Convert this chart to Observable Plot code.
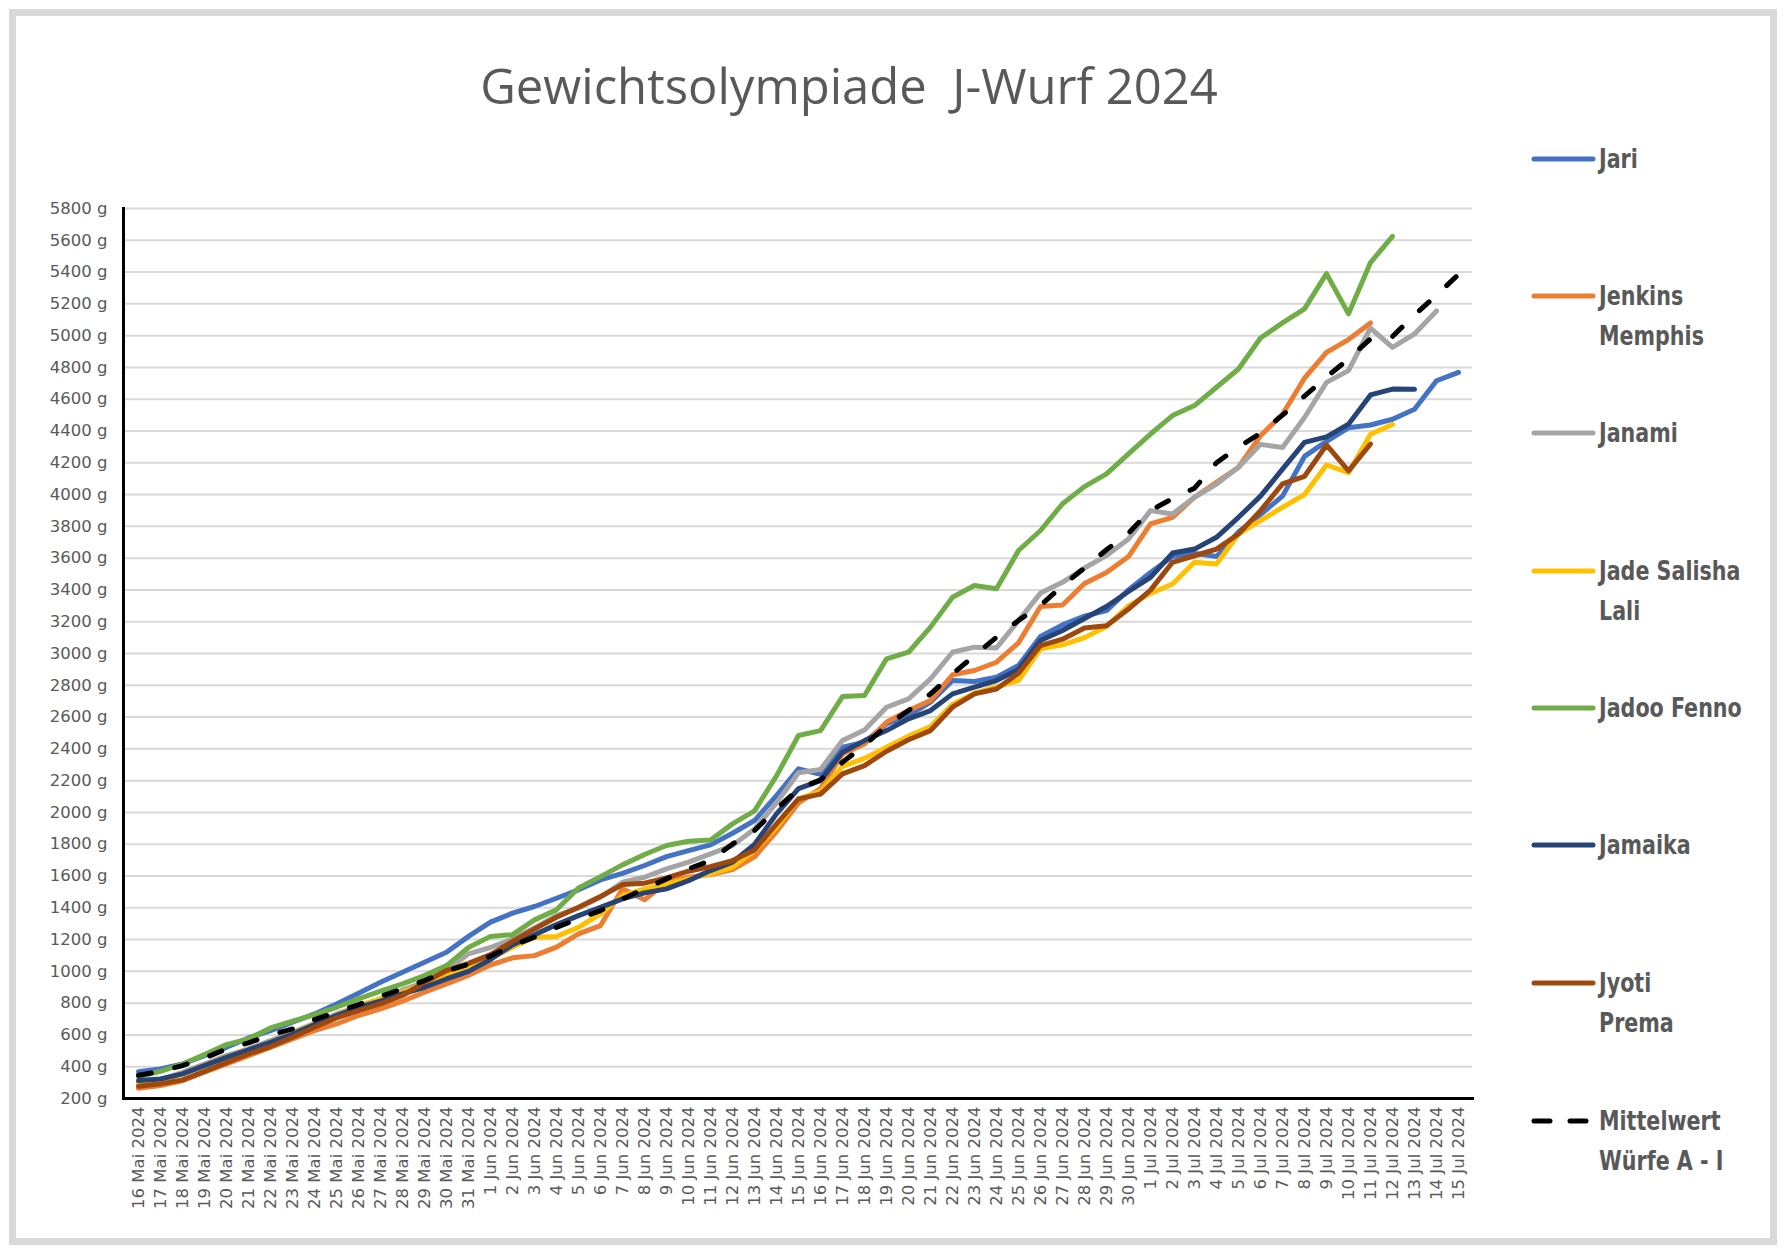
<!DOCTYPE html>
<html><head><meta charset="utf-8">
<script src="https://cdn.jsdelivr.net/npm/d3@7"></script>
<script src="https://cdn.jsdelivr.net/npm/@observablehq/plot@0.6"></script>
<style>
body{margin:0;background:#fff;}
#wrap{position:relative;width:1784px;height:1252px;overflow:hidden;background:#fff;}
#frame{position:absolute;left:9px;top:9px;width:1768px;height:1236px;border:7px solid #d9d9d9;box-sizing:border-box;}
#title{position:absolute;left:0;width:1698px;top:52px;text-align:center;font:49px "Open Sans",sans-serif;color:#595959;white-space:pre;}
#chart{position:absolute;left:0;top:0;}
#legend{position:absolute;left:1530px;top:0;width:250px;height:1252px;}
.item{position:absolute;left:0;}
.item svg{position:absolute;left:0;top:0;}
.item div{position:absolute;left:69px;top:0;font:bold 27px "Liberation Sans Narrow","DejaVu Sans Condensed",sans-serif;color:#595959;line-height:40px;white-space:nowrap;transform:scaleX(0.85);transform-origin:0 0;}
</style>
</head><body>
<div id="wrap">
  <div id="frame"></div>
  <div id="title">Gewichtsolympiade  J-Wurf 2024</div>
  <div id="chart"></div>
  <div id="legend"></div>
</div>
<script>
const dates = [
"16 Mai 2024","17 Mai 2024","18 Mai 2024","19 Mai 2024","20 Mai 2024","21 Mai 2024","22 Mai 2024","23 Mai 2024","24 Mai 2024","25 Mai 2024",
"26 Mai 2024","27 Mai 2024","28 Mai 2024","29 Mai 2024","30 Mai 2024","31 Mai 2024","1 Jun 2024","2 Jun 2024","3 Jun 2024","4 Jun 2024",
"5 Jun 2024","6 Jun 2024","7 Jun 2024","8 Jun 2024","9 Jun 2024","10 Jun 2024","11 Jun 2024","12 Jun 2024","13 Jun 2024","14 Jun 2024",
"15 Jun 2024","16 Jun 2024","17 Jun 2024","18 Jun 2024","19 Jun 2024","20 Jun 2024","21 Jun 2024","22 Jun 2024","23 Jun 2024","24 Jun 2024",
"25 Jun 2024","26 Jun 2024","27 Jun 2024","28 Jun 2024","29 Jun 2024","30 Jun 2024","1 Jul 2024","2 Jul 2024","3 Jul 2024","4 Jul 2024",
"5 Jul 2024","6 Jul 2024","7 Jul 2024","8 Jul 2024","9 Jul 2024","10 Jul 2024","11 Jul 2024","12 Jul 2024","13 Jul 2024","14 Jul 2024",
"15 Jul 2024"];

const yTicks = [200,400,600,800,1000,1200,1400,1600,1800,2000,2200,2400,2600,2800,3000,3200,3400,3600,3800,4000,4200,4400,4600,4800,5000,5200,5400,5600,5800];

const jari = [369,386,417,470,522,581,627,680,732,795,
862,931,994,1057,1120,1220,1310,1366,1408,1460,
1513,1575,1617,1666,1722,1760,1796,1869,1949,2106,
2274,2240,2410,2442,2557,2610,2694,2830,2824,2851,
2924,3107,3180,3235,3270,3400,3510,3610,3630,3610,
3765,3875,3990,4240,4335,4420,4438,4474,4537,4716,
4769];
const jenkinsMemphis = [264,281,312,365,417,470,522,575,627,669,
722,764,812,869,921,975,1040,1085,1099,1152,
1236,1288,1520,1450,1561,1592,1609,1640,1720,1880,
2060,2150,2368,2431,2568,2641,2704,2866,2893,2945,
3067,3296,3305,3440,3510,3610,3815,3857,3983,4077,
4172,4370,4505,4732,4895,4975,5080,null,null,null,
null];
const janami = [302,317,365,417,470,512,564,617,673,732,
778,827,883,931,1005,1110,1150,1204,1273,1351,
1399,1466,1561,1592,1645,1687,1739,1792,1896,2060,
2250,2270,2452,2519,2662,2715,2840,3008,3040,3035,
3207,3380,3448,3538,3616,3721,3899,3878,3983,4066,
4172,4316,4296,4485,4706,4780,5048,4926,5011,5155,
null];
const jadeSalishaLali = [291,306,355,407,459,506,554,610,669,722,
785,827,869,921,973,1035,1080,1152,1215,1219,
1277,1361,1477,1519,1550,1582,1613,1655,1760,1907,
2085,2133,2290,2340,2410,2480,2540,2680,2750,2790,
2830,3030,3055,3100,3170,3300,3378,3437,3574,3563,
3752,3836,3920,4000,4186,4138,4380,4441,null,null,
null];
const jadooFenno = [338,371,417,476,539,575,644,686,728,774,
827,875,921,973,1036,1150,1220,1231,1324,1387,
1525,1596,1670,1735,1792,1819,1827,1928,2010,2230,
2484,2515,2729,2736,2966,3008,3166,3354,3428,3407,
3648,3774,3942,4050,4130,4256,4381,4497,4560,4675,
4790,4985,5080,5168,5390,5137,5460,5625,null,null,
null];
const jamaika = [313,323,355,407,459,506,554,606,665,722,
774,812,858,900,952,1000,1075,1166,1231,1294,
1351,1403,1456,1494,1519,1571,1634,1687,1798,1991,
2150,2200,2379,2452,2515,2589,2641,2746,2788,2830,
2899,3082,3145,3220,3296,3390,3479,3632,3657,3731,
3857,3990,4160,4328,4363,4443,4627,4664,4662,null,
null];
const jyotiPrema = [277,292,317,371,426,480,527,585,648,707,
753,795,848,931,1005,1050,1105,1189,1267,1340,
1403,1471,1546,1555,1588,1630,1659,1697,1764,1928,
2085,2115,2243,2295,2385,2457,2515,2662,2746,2777,
2876,3050,3090,3160,3175,3280,3399,3574,3615,3657,
3752,3899,4067,4115,4312,4149,4318,null,null,null,
null];
const mittelwert = [346,371,407,455,512,550,600,638,697,743,
791,843,890,942,1001,1045,1096,1162,1215,1277,
1330,1382,1456,1519,1582,1645,1697,1802,1886,2022,
2148,2206,2316,2421,2547,2641,2746,2872,2987,3103,
3208,3302,3427,3538,3653,3758,3900,3975,4040,4200,
4300,4385,4500,4620,4740,4853,4980,4995,5130,5255,
5385];

const seriesNames = ["Jari","Jenkins Memphis","Janami","Jade Salisha Lali","Jadoo Fenno","Jamaika","Jyoti Prema","Mittelwert Würfe A - I"];
const legendLines = [["Jari"],["Jenkins","Memphis"],["Janami"],["Jade Salisha","Lali"],["Jadoo Fenno"],["Jamaika"],["Jyoti","Prema"],["Mittelwert","Würfe A - I"]];
const seriesValues = [jari, jenkinsMemphis, janami, jadeSalishaLali, jadooFenno, jamaika, jyotiPrema, mittelwert];
const seriesColors = ["#4472C4","#ED7D31","#A5A5A5","#FFC000","#70AD47","#264478","#9E480E","#000000"];
const seriesDash = [null,null,null,null,null,null,null,"13,24"];

const lineMarks = seriesNames.map((name, k) => {
  const rows = [];
  seriesValues[k].forEach((v, i) => { if (v != null) rows.push({series: name, date: dates[i], value: v}); });
  const opts = {x: "date", y: "value", stroke: seriesColors[k], strokeWidth: 5, strokeLinejoin: "round", strokeLinecap: "round"};
  if (seriesDash[k]) opts.strokeDasharray = seriesDash[k];
  return Plot.line(rows, opts);
});

const chart = Plot.plot({
  width: 1500, height: 1240,
  marginLeft: 123, marginRight: 28, marginTop: 208, marginBottom: 142,
  x: {type: "point", domain: dates, padding: 0.5, label: null},
  y: {domain: [200, 5800], label: null},
  style: {fontFamily: "DejaVu Sans", fontSize: "16.5px", color: "#595959", background: "transparent", overflow: "visible"},
  marks: [
    Plot.gridY(yTicks, {stroke: "#d9d9d9", strokeOpacity: 1, strokeWidth: 2}),
    Plot.axisY(yTicks, {tickSize: 0, tickPadding: 16, tickFormat: d => `${d} g`, fill: "#595959", label: null}),
    Plot.axisX({tickSize: 0, tickRotate: -90, tickPadding: 8, fill: "#595959", label: null}),
    ...lineMarks,
    Plot.frame({anchor: "left", stroke: "#000", strokeWidth: 3}),
    Plot.frame({anchor: "bottom", stroke: "#000", strokeWidth: 3})
  ]
});
document.getElementById("chart").appendChild(chart);

const legendCenters = [159, 296, 433, 571, 708, 845, 983, 1121];
const legend = document.getElementById("legend");
seriesNames.forEach((name, k) => {
  const item = document.createElement("div");
  item.className = "item";
  item.style.top = (legendCenters[k] - 20) + "px";
  const dash = seriesDash[k] ? ' stroke-dasharray="16,20"' : '';
  item.innerHTML = `<svg width="69" height="40"><line x1="4" y1="20" x2="${seriesDash[k] ? 60 : 63}" y2="20" stroke="${seriesColors[k]}" stroke-width="5" stroke-linecap="round"${dash}/></svg>`;
  const txt = document.createElement("div");
  txt.innerHTML = legendLines[k].join("<br>");
  item.appendChild(txt);
  legend.appendChild(item);
});
</script>
</body></html>
